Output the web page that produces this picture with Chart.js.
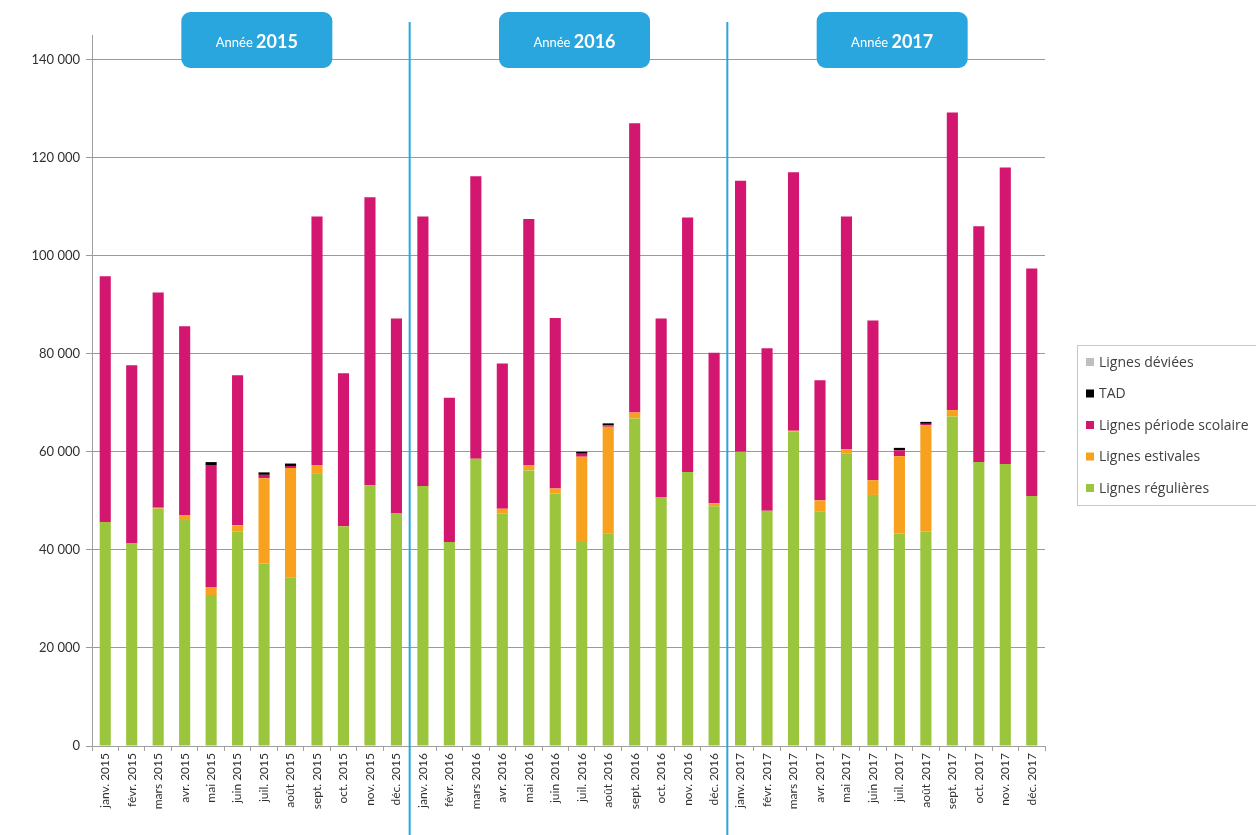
<!DOCTYPE html>
<html>
<head>
<meta charset="utf-8">
<script src="https://cdn.jsdelivr.net/npm/chart.js@4/dist/chart.umd.min.js"></script>
<style>
  html, body { margin: 0; padding: 0; background: #ffffff; overflow: hidden; }
  #wrap { position: relative; width: 1256px; height: 835px; }
</style>
</head>
<body>
<div id="wrap"><canvas id="c" width="1256" height="835"></canvas></div>
<script>
const categories = [
  'janv. 2015','févr. 2015','mars 2015','avr. 2015','mai 2015','juin 2015','juil. 2015','août 2015','sept. 2015','oct. 2015','nov. 2015','déc. 2015',
  'janv. 2016','févr. 2016','mars 2016','avr. 2016','mai 2016','juin 2016','juil. 2016','août 2016','sept. 2016','oct. 2016','nov. 2016','déc. 2016',
  'janv. 2017','févr. 2017','mars 2017','avr. 2017','mai 2017','juin 2017','juil. 2017','août 2017','sept. 2017','oct. 2017','nov. 2017','déc. 2017'
];
const lignesRegulieres = [
  45700, 41300, 48400, 46100, 30800, 43800, 37200, 34400, 55600, 44800, 53200, 47400,
  53000, 41600, 58600, 47400, 56200, 51500, 41600, 43300, 66800, 50700, 55900, 48900,
  60000, 48000, 64100, 47800, 59600, 51200, 43300, 43700, 67200, 57900, 57500, 51000
];
const lignesEstivales = [
  0, 0, 200, 1000, 1500, 1200, 17400, 22300, 1700, 0, 0, 0,
  0, 0, 0, 1000, 1100, 1000, 17400, 21800, 1200, 0, 0, 600,
  0, 0, 200, 2300, 900, 3000, 15800, 21700, 1300, 0, 0, 0
];
const lignesScolaires = [
  50100, 36350, 43900, 38500, 25000, 30600, 700, 400, 50700, 31200, 58700, 39800,
  55000, 29400, 57600, 29600, 50200, 34800, 600, 300, 59000, 36500, 51900, 30700,
  55300, 33100, 52700, 24500, 47500, 32600, 1200, 300, 60700, 48100, 60500, 46400
];
const tad = [
  0, 0, 0, 0, 600, 0, 500, 500, 0, 0, 0, 0,
  0, 0, 0, 0, 0, 0, 400, 400, 0, 0, 0, 0,
  0, 0, 0, 0, 0, 0, 500, 400, 0, 0, 0, 0
];
const lignesDeviees = [
  0,0,0,0,0,0,0,0,0,0,0,0,
  0,0,0,0,0,0,0,0,0,0,0,0,
  0,0,0,0,0,0,0,0,0,0,0,0
];
const seriesNames = ['Lignes régulières','Lignes estivales','Lignes période scolaire','TAD','Lignes déviées'];
const seriesColors = ['#9bc53d','#f7a11e','#d3166f','#000000','#bfbfbf'];
const yearLabels = ['2015','2016','2017'];
const yTicks = [0, 20000, 40000, 60000, 80000, 100000, 120000, 140000];

const FONT = 'Lato, "Open Sans", sans-serif';
const LEGEND_FONT = '"Open Sans", Lato, sans-serif';
const seriesData = [lignesRegulieres, lignesEstivales, lignesScolaires, tad, lignesDeviees];

const datasets = seriesNames.map((n, i) => ({
  label: n,
  data: seriesData[i],
  backgroundColor: seriesColors[i],
  borderWidth: 0,
  barPercentage: 0.42,
  categoryPercentage: 1.0
}));

function fmt(v) {
  return String(v).replace(/\B(?=(\d{3})+(?!\d))/g, ' ');
}

const overlay = {
  id: 'overlay',
  afterDraw(chart) {
    const ctx = chart.ctx;
    const xs = chart.scales.x;
    ctx.save();
    ctx.strokeStyle = '#2aa6de';
    ctx.lineWidth = 2;
    for (let k = 1; k < yearLabels.length; k++) {
      const xx = (xs.getPixelForValue(k * 12 - 1) + xs.getPixelForValue(k * 12)) / 2;
      ctx.beginPath();
      ctx.moveTo(xx, 22);
      ctx.lineTo(xx, 835);
      ctx.stroke();
    }
    yearLabels.forEach((y, k) => {
      const x0 = xs.getPixelForValue(k * 12);
      const x1 = xs.getPixelForValue(k * 12 + 11);
      const cx = (x0 + x1) / 2 + 6;
      const w = 151, h = 56;
      ctx.fillStyle = '#2aa6de';
      ctx.beginPath();
      ctx.roundRect(cx - w / 2, 12, w, h, 9);
      ctx.fill();
      ctx.fillStyle = '#ffffff';
      ctx.textBaseline = 'middle';
      const a = 'Année ';
      ctx.font = 'bold 18px ' + FONT;
      const wb = ctx.measureText(y).width;
      ctx.font = '13px ' + FONT;
      const wa = ctx.measureText(a).width;
      const sx = cx - (wa + wb) / 2;
      ctx.textAlign = 'left';
      ctx.fillText(a, sx, 43);
      ctx.font = 'bold 18px ' + FONT;
      ctx.fillText(y, sx + wa, 42);
    });
    ctx.strokeStyle = '#c8c8c8';
    ctx.lineWidth = 1;
    ctx.strokeRect(1077.5, 345.5, 200, 160);
    ctx.font = '14px ' + LEGEND_FONT;
    ctx.textAlign = 'left';
    ctx.textBaseline = 'middle';
    const order = [4, 3, 2, 1, 0];
    order.forEach((si, j) => {
      const yy = 362 + j * 31.5;
      ctx.fillStyle = seriesColors[si];
      ctx.fillRect(1086, yy - 4, 8, 8);
      ctx.fillStyle = '#404040';
      ctx.fillText(seriesNames[si], 1099, yy + 1);
    });
    ctx.restore();
  }
};

new Chart(document.getElementById('c'), {
  type: 'bar',
  data: { labels: categories, datasets },
  options: {
    responsive: false,
    animation: false,
    layout: { padding: { left: 0, right: 211, top: 35, bottom: 0 } },
    plugins: { legend: { display: false }, tooltip: { enabled: false } },
    scales: {
      x: {
        stacked: true,
        grid: { display: true, drawOnChartArea: false, drawTicks: true, tickLength: 5, color: '#a0a0a0' },
        border: { display: true, color: '#a0a0a0', width: 1 },
        ticks: { minRotation: 90, maxRotation: 90, autoSkip: false, padding: 2, color: '#303030', font: { family: FONT, size: 12 } },
        afterFit(s) { s.height = 89; }
      },
      y: {
        stacked: true,
        min: 0,
        max: 145000,
        afterBuildTicks(s) { s.ticks = yTicks.map(v => ({ value: v })); },
        grid: { display: true, color: '#9a9a9a', drawTicks: true, tickLength: 6 },
        border: { display: true, color: '#a0a0a0', width: 1 },
        ticks: { padding: 6, color: '#303030', font: { family: FONT, size: 13 }, callback: (v) => fmt(v) },
        afterFit(s) { s.width = 92; }
      }
    }
  },
  plugins: [overlay]
});
</script>
</body>
</html>
